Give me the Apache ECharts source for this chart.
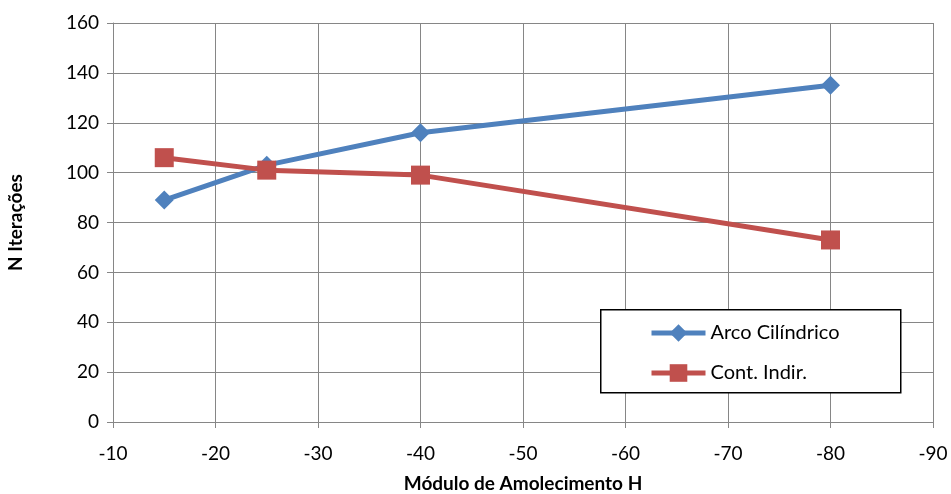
<!DOCTYPE html>
<html><head><meta charset="utf-8">
<script src="https://cdn.jsdelivr.net/npm/echarts@6/dist/echarts.min.js"></script>
<style>html,body{margin:0;padding:0;background:#fff}#c{width:951px;height:494px}</style>
</head><body><div id="c"></div>
<script>
const xValues = [-15, -25, -40, -80];
const arcoValues = [89, 103, 116, 135];
const contValues = [106, 101, 99, 73];
const seriesNames = ['Arco Cilíndrico', 'Cont. Indir.'];
const xTitle = 'Módulo de Amolecimento H';
const yTitle = 'N Iterações';

const font = 'Lato, "Open Sans", sans-serif';
const chart = echarts.init(document.getElementById('c'));
chart.setOption({
  animation: false,
  backgroundColor: '#fff',
  grid: {left: 113, right: 18, top: 23, bottom: 72, containLabel: false, outerBoundsMode: 'none'},
  xAxis: {
    type: 'value', inverse: true, min: -90, max: -10, interval: 10,
    name: xTitle, nameLocation: 'middle', nameGap: 52,
    nameTextStyle: {fontFamily: font, fontSize: 19, fontWeight: 'bold', color: '#000'},
    axisLine: {show: true, lineStyle: {color: '#868686', width: 1}},
    axisTick: {show: true, length: 6, lineStyle: {color: '#868686'}},
    axisLabel: {fontFamily: font, fontSize: 19, color: '#000', margin: 22},
    splitLine: {show: true, lineStyle: {color: '#868686', width: 1}}
  },
  yAxis: {
    type: 'value', min: 0, max: 160, interval: 20,
    name: yTitle, nameLocation: 'middle', nameGap: 88, nameRotate: 90,
    nameTextStyle: {fontFamily: font, fontSize: 19, fontWeight: 'bold', color: '#000'},
    axisLine: {show: true, lineStyle: {color: '#868686', width: 1}},
    axisTick: {show: true, length: 6, lineStyle: {color: '#868686'}},
    axisLabel: {fontFamily: font, fontSize: 19, color: '#000', margin: 14},
    splitLine: {show: true, lineStyle: {color: '#868686', width: 1}}
  },
  legend: {
    orient: 'vertical', left: 644, top: 318, itemGap: 20,
    itemWidth: 54, itemHeight: 22, z: 20,
    lineStyle: {width: 5},
    textStyle: {fontFamily: font, fontSize: 20, color: '#000'},
    data: seriesNames
  },
  graphic: [{
    type: 'rect', left: 600, top: 309, z: 3,
    shape: {width: 300, height: 83},
    style: {fill: '#fff', stroke: '#000', lineWidth: 1.5}
  }],
  series: [
    {
      name: seriesNames[0], type: 'line',
      data: xValues.map((x, i) => [x, arcoValues[i]]),
      symbol: 'diamond', symbolSize: 19,
      lineStyle: {color: '#4F81BD', width: 5},
      itemStyle: {color: '#4F81BD'}
    },
    {
      name: seriesNames[1], type: 'line',
      data: xValues.map((x, i) => [x, contValues[i]]),
      symbol: 'rect', symbolSize: 19,
      lineStyle: {color: '#C0504D', width: 5},
      itemStyle: {color: '#C0504D'}
    }
  ]
});
</script></body></html>
